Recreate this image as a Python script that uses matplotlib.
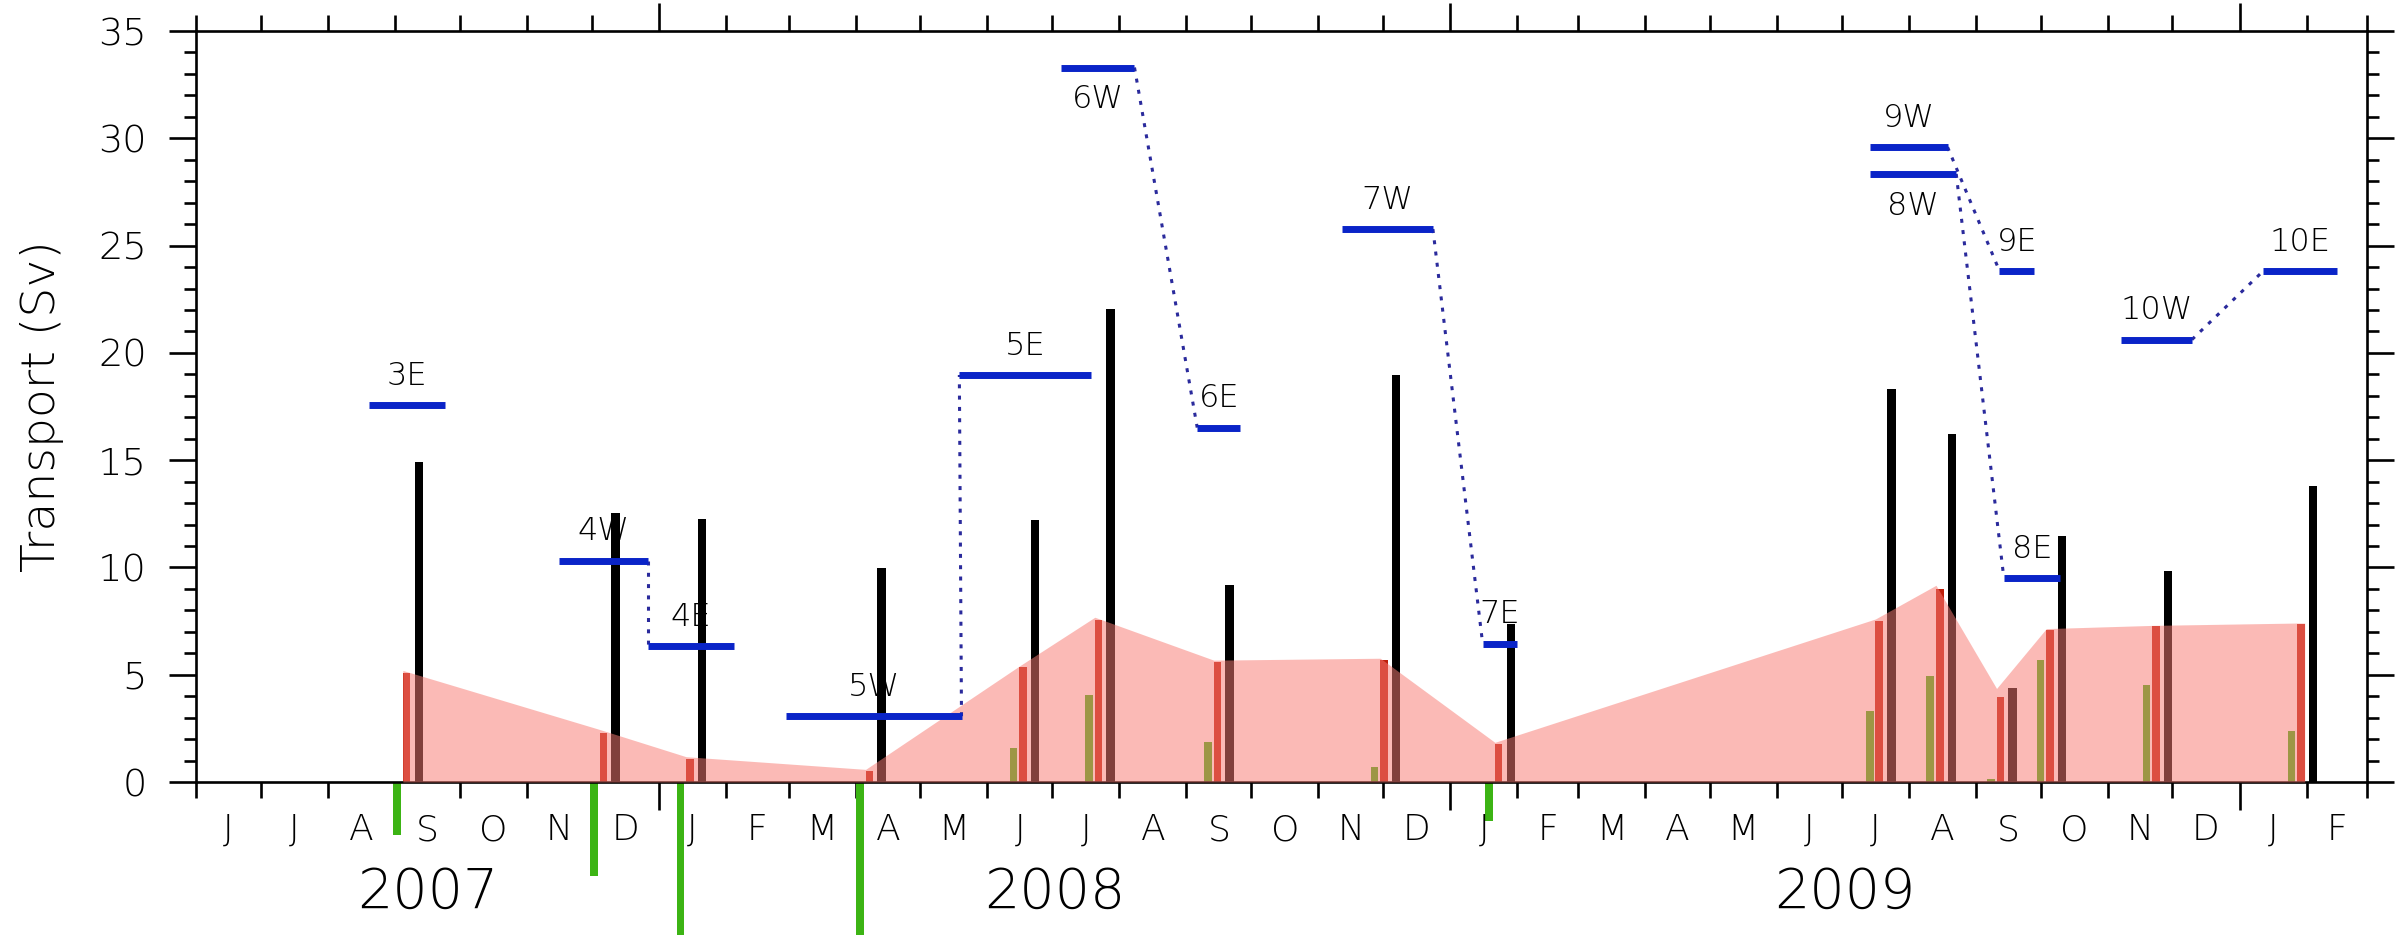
import matplotlib
matplotlib.use("Agg")

import matplotlib.pyplot as plt
import matplotlib.dates as mdates
import numpy as np
import pandas as pd

# ── cruise data ───────────────────────────────────────────────────────────────
cruise_dates = ["2007-09-12", "2007-12-12", "2008-01-21", "2008-04-13", "2008-06-23",
                "2008-07-28", "2008-09-21", "2008-12-07", "2009-01-29", "2009-07-24",
                "2009-08-21", "2009-09-18", "2009-10-11", "2009-11-29", "2010-02-04"]
total_sv  = [14.92, 12.54, 12.26, 9.99, 12.19, 22.04, 9.17, 18.97, 7.38, 18.31,
             16.24, 4.39, 11.46, 9.83, 13.80]
red_sv    = [5.06, 2.29, 1.07, 0.53, 5.34, 7.54, 5.60, 5.68, 1.76, 7.50,
             9.01, 3.97, 7.10, 7.26, 7.38]
green_sv  = [-2.45, -4.40, -10.0, -10.0, 1.60, 4.04, 1.85, 0.70, -1.80, 3.29,
             4.96, 0.15, 5.70, 4.54, 2.37]
envelope_sv = [5.20, 2.45, 1.18, 0.59, 5.40, 7.68, 5.68, 5.77, 1.85, 7.60,
               9.17, 4.36, 7.15, 7.30, 7.41]

# section lines (blue)
sect_names = ["3E", "4W", "4E", "5W", "5E", "6W", "6E", "7W", "7E",
              "8W", "8E", "9W", "9E", "10W", "10E"]
sect_start = ["2007-08-20", "2007-11-16", "2007-12-27", "2008-02-29", "2008-05-19",
              "2008-07-05", "2008-09-06", "2008-11-12", "2009-01-16",
              "2009-07-14", "2009-09-14", "2009-07-14", "2009-09-12", "2009-11-07", "2010-01-12"]
sect_end   = ["2007-09-24", "2007-12-27", "2008-02-05", "2008-05-20", "2008-07-19",
              "2008-08-08", "2008-09-26", "2008-12-24", "2009-02-01",
              "2009-08-23", "2009-10-10", "2009-08-19", "2009-09-28", "2009-12-10", "2010-02-15"]
sect_sv    = [17.58, 10.32, 6.35, 3.07, 18.97, 33.30, 16.52, 25.77, 6.45,
              28.34, 9.52, 29.59, 23.82, 20.62, 23.82]
labels_below = {"6W", "8W"}

year_labels = ["2007", "2008", "2009"]

X_START, X_END = "2007-06-01", "2010-03-01"


def dn(s):
    return mdates.date2num(pd.to_datetime(s))


t = np.array([dn(d) for d in cruise_dates])

plt.rcParams["font.family"] = ["DejaVu Sans"]
plt.rcParams["font.weight"] = "light"
plt.rcParams["axes.labelweight"] = "light"

fig = plt.figure(figsize=(23.99, 9.35), dpi=100)
ax = fig.add_axes([0.0817, 0.1636, 0.905, 0.8032])

x0, x1 = dn(X_START), dn(X_END)

# bars: green/olive (offset -10 d), red (-5.6 d), black at cruise date
ax.bar(t - 10.0, green_sv, width=3.5, color="#3cb414", zorder=2, clip_on=False)
ax.bar(t - 5.6, red_sv, width=3.5, color="#be1e0a", zorder=2)
ax.bar(t, total_sv, width=3.9, color="black", zorder=2)

# translucent envelope over the bars
env_x = np.append(t - 7.35, t[-1] - 3.85)
env_y = np.append(envelope_sv, envelope_sv[-1])
ax.fill_between(env_x, 0, env_y, color="#f87c74", alpha=0.52, lw=0, zorder=3)

# section lines and W->E connectors
seg = {}
for name, s, e, v in zip(sect_names, sect_start, sect_end, sect_sv):
    xs, xe = dn(s), dn(e)
    seg[name] = (xs, xe, v)
    ax.plot([xs, xe], [v, v], color="#0a24c8", lw=5, solid_capstyle="butt", zorder=5)
    off = -23 if name in labels_below else 21
    ax.annotate(name, xy=((xs + xe) / 2, v), xytext=(0, off), textcoords="offset points",
                ha="center", va="center", fontsize=23, zorder=6)

for name in sect_names:
    if name.endswith("W"):
        east = name[:-1] + "E"
        if east in seg:
            xw, yw = seg[name][1], seg[name][2]
            xe, ye = seg[east][0], seg[east][2]
            ax.plot([xw, xe], [yw, ye], color="#2a2a9c", lw=2.2,
                    linestyle=(0, (1.3, 2.4)), zorder=4)

# axes
ax.set_xlim(x0, x1)
ax.set_ylim(0, 35)

months = pd.date_range(X_START, X_END, freq="MS")
month_nums = np.array([dn(m) for m in months])
years = pd.date_range("2008-01-01", X_END, freq="YS")
ax.set_xticks([dn(y) for y in years])
ax.set_xticks(month_nums, minor=True)
ax.tick_params(axis="x", which="major", length=20, width=1.9, direction="out",
               top=True, bottom=True, labelbottom=False)
ax.tick_params(axis="x", which="minor", length=11.5, width=1.9, direction="out",
               top=True, bottom=True)

ax.set_yticks(np.arange(0, 36, 5))
ax.set_yticks(np.arange(0, 36, 1), minor=True)
ax.tick_params(axis="y", which="major", length=19.5, width=1.9, direction="out",
               left=True, right=True, labelsize=27.5, pad=16)
ax.tick_params(axis="y", which="minor", length=8.5, width=1.9, direction="out",
               left=True, right=True)

for sp in ax.spines.values():
    sp.set_linewidth(1.9)

xtr = ax.get_xaxis_transform()
for a, b, m in zip(month_nums[:-1], month_nums[1:], months[:-1]):
    ax.text((a + b) / 2, -0.064, m.strftime("%b")[0], transform=xtr,
            ha="center", va="center", fontsize=26)

for lab in year_labels:
    lo = max(dn(f"{lab}-01-01"), x0)
    hi = min(dn(f"{int(lab) + 1}-01-01"), x1)
    ax.text((lo + hi) / 2, -0.147, lab, transform=xtr,
            ha="center", va="center", fontsize=40)

ax.set_ylabel("Transport (Sv)", fontsize=34, fontweight="light")
ax.yaxis.set_label_coords(-0.061, 0.5)

fig.savefig("out.png", dpi=100)
